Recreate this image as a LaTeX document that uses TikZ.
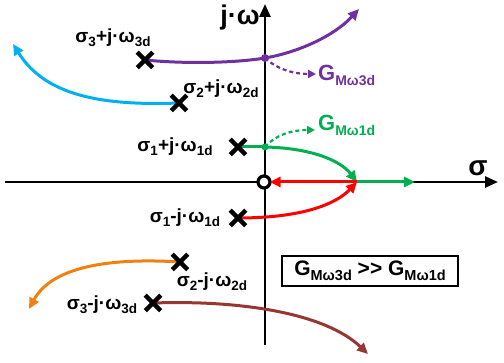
\documentclass[tikz,border=0pt]{standalone}
\usepackage{fontspec}
\setmainfont{Liberation Sans}
\usetikzlibrary{arrows.meta,shapes.misc}
\definecolor{cpurple}{RGB}{112,48,160}
\definecolor{cblue}{RGB}{0,176,240}
\definecolor{cgreen}{RGB}{0,176,80}
\definecolor{cred}{RGB}{255,0,0}
\definecolor{corange}{RGB}{240,128,16}
\definecolor{cbrown}{RGB}{150,55,52}
\newcommand\subt[2]{\raisebox{-0.22em}{\fontsize{#1}{#1}\selectfont #2}}
\newcommand\pl[3]{\fontsize{19}{19}\selectfont σ\subt{13.5}{#1}#2j·ω\subt{13.5}{#3}}
\tikzset{
  locus/.style={line width=3pt, -{Triangle[length=11pt,width=10pt]}},
  plain/.style={line width=3pt},
  axis/.style={line width=2.6pt, -{Triangle[length=13pt,width=11pt]}},
  dsh/.style={line width=2.2pt, dash pattern=on 4pt off 3pt, -{Triangle[length=8pt,width=8pt]}},
  pole/.style={cross out, draw=black, line width=4.5pt, minimum size=11pt, inner sep=0pt},
  lbl/.style={font=\bfseries, inner sep=0pt},
  gl/.style={font=\bfseries\fontsize{22}{22}\selectfont, inner sep=0pt},
}
\begin{document}
\begin{tikzpicture}[x=1pt,y=-1pt]
\useasboundingbox (0,0) rectangle (504,363);
% axes
\coordinate (xl) at (5,182);
\coordinate (xr) at (498,182);
\coordinate (yb) at (265,345);
\coordinate (yt) at (265,4);
\draw[axis] (xl) -- (xr);
\draw[axis] (yb) -- (yt);
\node[lbl, font=\bfseries\fontsize{28}{28}\selectfont] (sig) at (478,168) {σ};
\node[lbl, font=\bfseries\fontsize{27}{27}\selectfont] (jw) at (240,18) {j·ω};
% coordinates
\coordinate (p3p) at (145,60);
\coordinate (p2p) at (179,103);
\coordinate (p1p) at (238,147);
\coordinate (p1m) at (238,218);
\coordinate (p2m) at (180,262);
\coordinate (p3m) at (153,303);
\coordinate (d3) at (265,58);
\coordinate (d1) at (265,147);
\coordinate (br) at (357,182);
\coordinate (z) at (264,182);
\coordinate (t3) at (359,9);
\coordinate (t2) at (13,44);
\coordinate (tg) at (415,182);
\coordinate (to) at (29,309);
\coordinate (tb) at (368,354);
\coordinate (g3) at (316,74);
\coordinate (g1) at (315,130);
% loci
\draw[plain, cpurple] (p3p) .. controls (185,64) and (235,63) .. (d3);
\draw[locus, cpurple] (d3) .. controls (300,52) and (335,35) .. (t3);
\draw[locus, cblue] (p2p) .. controls (100,106) and (45,95) .. (t2);
\draw[plain, cgreen] (p1p) -- (d1);
\draw[locus, cgreen] (d1) .. controls (310,148) and (340,160) .. (br);
\draw[locus, cgreen] (br) -- (tg);
\draw[locus, cred] (p1m) .. controls (300,218) and (335,205) .. (br);
\draw[locus, corange] (p2m) .. controls (100,257) and (50,270) .. (to);
\draw[locus, cbrown] (p3m) .. controls (240,300) and (325,313) .. (tb);
% zero
\node[circle, draw=black, fill=white, line width=3.2pt, minimum size=12pt, inner sep=0pt] (zero) at (z) {};
\draw[locus, cred] (br) -- ([xshift=-2pt]zero.east);
% dashed gain pointers
\draw[dsh, cpurple] (d3) .. controls (278,70) and (295,74) .. (g3);
\draw[dsh, cgreen] (d1) .. controls (275,135) and (292,130) .. (g1);
\fill[cpurple] (d3) circle (4pt);
\fill[cgreen] (d1) circle (3.5pt);
% poles
\foreach \p in {p3p,p2p,p1p,p1m,p2m,p3m} \node[pole] at (\p) {};
% labels
\node[lbl] (l3p) at (113,38) {\pl{3}{+}{3d}};
\node[lbl] (l2p) at (221,89) {\pl{2}{+}{2d}};
\node[lbl] (l1p) at (175,147) {\pl{1}{+}{1d}};
\node[lbl] (l1m) at (185,218) {\pl{1}{-}{1d}};
\node[lbl] (l2m) at (212,282) {\pl{2}{-}{2d}};
\node[lbl] (l3m) at (102,305) {\pl{3}{-}{3d}};
\node[gl, cpurple, anchor=west] (G3) at (318,75) {G\subt{14}{Mω3d}};
\node[gl, cgreen, anchor=west] (G1) at (318,125) {G\subt{14}{Mω1d}};
\node[draw=black, line width=2pt, minimum width=176pt, minimum height=30pt, inner sep=0pt, font=\bfseries\fontsize{21}{21}\selectfont] (box) at (370,271) {G\subt{14.5}{Mω3d} >{}> G\subt{14.5}{Mω1d}};
\end{tikzpicture}
\end{document}
